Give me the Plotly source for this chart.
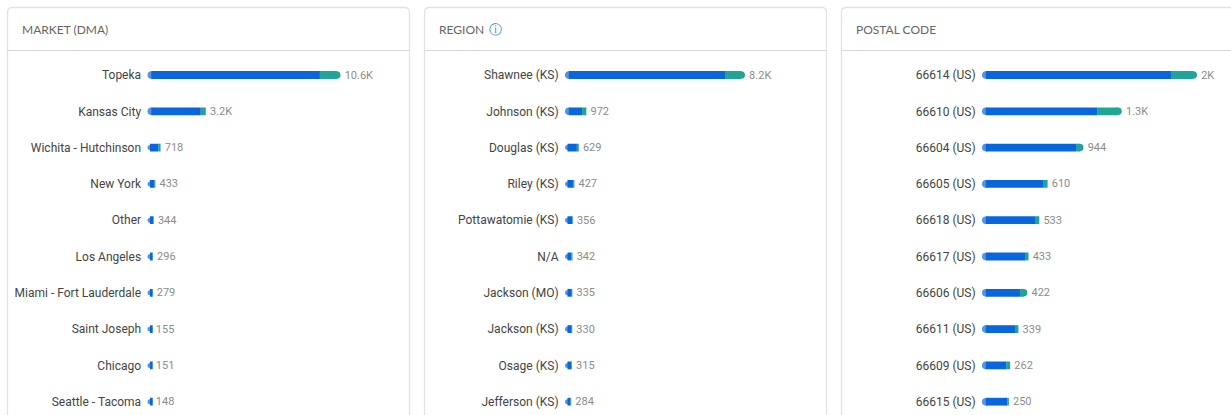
import plotly.graph_objects as go

W, H = 1231, 415

# ---- data -------------------------------------------------------------
titles = ["MARKET (DMA)", "REGION", "POSTAL CODE"]

market_names = ["Topeka", "Kansas City", "Wichita - Hutchinson", "New York", "Other", "Los Angeles",
                "Miami - Fort Lauderdale", "Saint Joseph", "Chicago", "Seattle - Tacoma"]
market_blue = [9470, 2925, 590, 385, 305, 262, 250, 135, 135, 135]
market_green = [1130, 275, 128, 48, 39, 34, 29, 20, 16, 13]
market_labels = ["10.6K", "3.2K", "718", "433", "344", "296", "279", "155", "151", "148"]

region_names = ["Shawnee (KS)", "Johnson (KS)", "Douglas (KS)", "Riley (KS)", "Pottawatomie (KS)", "N/A",
                "Jackson (MO)", "Jackson (KS)", "Osage (KS)", "Jefferson (KS)"]
region_blue = [7290, 780, 540, 380, 320, 295, 310, 305, 295, 245]
region_green = [910, 192, 89, 47, 36, 47, 25, 25, 20, 39]
region_labels = ["8.2K", "972", "629", "427", "356", "342", "335", "330", "315", "284"]

postal_names = ["66614 (US)", "66610 (US)", "66604 (US)", "66605 (US)", "66618 (US)", "66617 (US)",
                "66606 (US)", "66611 (US)", "66609 (US)", "66615 (US)"]
postal_blue = [1758, 1075, 880, 567, 500, 400, 360, 307, 225, 235]
postal_green = [242, 225, 64, 43, 33, 33, 62, 32, 37, 15]
postal_labels = ["2K", "1.3K", "944", "610", "533", "433", "422", "339", "262", "250"]

# ---- style / layout ----------------------------------------------------
BLUE, TEAL = "#0A66DC", "#1FA597"
FONT = "Roboto"
panels = [
    dict(names=market_names, blue=market_blue, green=market_green, labels=market_labels,
         box=(7.5, 409.5), title_x=20, x0=147.5, x1=400, xmax=13868),
    dict(names=region_names, blue=region_blue, green=region_green, labels=region_labels,
         box=(424.5, 826.5), title_x=437, x0=565, x1=820, xmax=11617),
    dict(names=postal_names, blue=postal_blue, green=postal_green, labels=postal_labels,
         box=(841.5, 1250), title_x=854, x0=982, x1=1225, xmax=2260),
]

ROW = 36.3
FIRST = 75
PLOT_TOP = FIRST - ROW / 2
BAR_PX = 7.6
SMALL_CAP_PX = 5    # short bars get a smaller rounded end so they stay block shaped
MIN_PX = 5.5        # shortest bar drawn
MIN_LABEL_PX = 4.2  # value label never sits closer to the axis than this
BAR_W = 0.215


def fx(px):
    return px / W


def fy(py):
    return 1 - py / H


fig = go.Figure()
shapes, annotations = [], []
layout_axes = {}
ymax = (H - FIRST) / ROW

for i, p in enumerate(panels, start=1):
    xa, ya = ("x", "y") if i == 1 else (f"x{i}", f"y{i}")
    upx = p["xmax"] / (p["x1"] - p["x0"])   # data units per pixel
    r = BAR_PX / 2 * upx
    names = p["names"]
    blue, total, label_end = [], [], []
    for b, g in zip(p["blue"], p["green"]):
        k = max(1, MIN_PX * upx / (b + g))
        blue.append(b * k)
        total.append((b + g) * k)
        label_end.append(max(b + g, MIN_LABEL_PX * upx))

    common = dict(y=names, orientation="h", width=BAR_W, xaxis=xa, yaxis=ya, showlegend=False, hoverinfo="skip")
    # invisible bar that only carries the value label
    fig.add_bar(x=label_end, marker=dict(color="rgba(0,0,0,0)", line_width=0),
                text=["\u200a" + t for t in p["labels"]], textposition="outside", textangle=0, cliponaxis=False,
                constraintext="none", textfont=dict(family=FONT, size=11, color="#8C8C8C"), **common)
    # teal segment, rounded at its right end only when it is long enough
    capped = [t - b >= 6 * upx for t, b in zip(total, blue)]
    teal_end = [t - r if c else t for t, c in zip(total, capped)]
    fig.add_bar(x=[te - b for te, b in zip(teal_end, blue)], base=blue, marker=dict(color=TEAL, line_width=0), **common)
    fig.add_scatter(x=[te for te, c in zip(teal_end, capped) if c],
                    y=[n for n, c in zip(names, capped) if c], mode="markers",
                    marker=dict(color=TEAL, size=BAR_PX, line_width=0), xaxis=xa, yaxis=ya,
                    showlegend=False, hoverinfo="skip", cliponaxis=False)
    # blue segment with a rounded left end
    cap_px = [BAR_PX if t >= 2 * BAR_PX * upx else SMALL_CAP_PX for t in total]
    cap_mid = [c / 2 * upx for c in cap_px]
    fig.add_bar(x=[max(b - m, 0) for b, m in zip(blue, cap_mid)], base=cap_mid,
                marker=dict(color=BLUE, line_width=0), **common)
    fig.add_scatter(x=cap_mid, y=names, mode="markers",
                    marker=dict(color=BLUE, size=cap_px, line_width=0), xaxis=xa, yaxis=ya,
                    showlegend=False, hoverinfo="skip", cliponaxis=False)

    suffix = "" if i == 1 else str(i)
    layout_axes["xaxis" + suffix] = dict(domain=[fx(p["x0"]), fx(p["x1"])], range=[0, p["xmax"]], visible=False,
                                         anchor="y" + suffix, fixedrange=True)
    layout_axes["yaxis" + suffix] = dict(domain=[0, fy(PLOT_TOP)], anchor="x" + suffix, type="category",
                                         categoryorder="array", categoryarray=names,
                                         range=[ymax, -0.5], showgrid=False, zeroline=False, showline=False,
                                         ticks="outside", ticklen=3, tickcolor="rgba(0,0,0,0)",
                                         tickfont=dict(family=FONT, size=12, color="#444444"), fixedrange=True)

    left, right = p["box"]
    t, rad = 7.5, 5
    path = (f"M {fx(left)} {fy(H + 20)} L {fx(left)} {fy(t + rad)} Q {fx(left)} {fy(t)} {fx(left + rad)} {fy(t)} "
            f"L {fx(right - rad)} {fy(t)} Q {fx(right)} {fy(t)} {fx(right)} {fy(t + rad)} L {fx(right)} {fy(H + 20)}")
    shapes.append(dict(type="path", path=path, xref="paper", yref="paper", layer="below",
                       line=dict(color="#E2E2E2", width=1.3)))
    shapes.append(dict(type="line", xref="paper", yref="paper", layer="below",
                       x0=fx(left), x1=fx(right), y0=fy(50.5), y1=fy(50.5), line=dict(color="#D8D8D8", width=1)))
    annotations.append(dict(text=titles[i - 1], xref="paper", yref="paper", x=fx(p["title_x"]), y=fy(29.5),
                            xanchor="left", yanchor="middle", showarrow=False,
                            font=dict(family="Lato", size=12, color="#666666")))

annotations.append(dict(text="ⓘ", xref="paper", yref="paper", x=fx(495), y=fy(29), xanchor="center",
                        yanchor="middle", showarrow=False, font=dict(family="DejaVu Sans", size=13, color="#2F80D0")))

fig.update_layout(width=W, height=H, margin=dict(l=0, r=0, t=0, b=0), barmode="overlay", autosize=False,
                  paper_bgcolor="white", plot_bgcolor="rgba(0,0,0,0)", shapes=shapes, annotations=annotations,
                  **layout_axes)

fig.write_html("out.html", config={"displayModeBar": False, "staticPlot": True},
               post_script="document.body.style.margin='0';document.documentElement.style.overflow='hidden';")
